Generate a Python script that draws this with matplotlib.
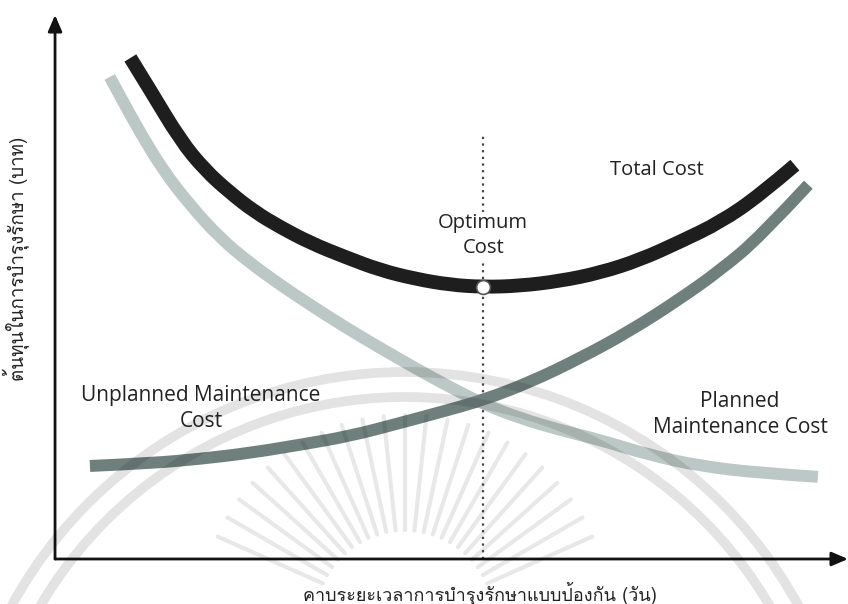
import matplotlib
matplotlib.use("Agg")
import matplotlib.pyplot as plt
import matplotlib.font_manager as fm
from matplotlib.ft2font import FT2Font
from matplotlib.patches import Circle, PathPatch
from matplotlib.path import Path
import numpy as np

# total cost curve
total_x = [9.5, 12.0, 15.8, 18.9, 22.1, 25.2, 28.4, 32.2, 36.6, 41.0, 45.4,
           49.8, 54.0, 58.6, 63.7, 68.7, 73.8, 78.8, 83.9, 88.9, 93.3]
total_y = [92.1, 86.2, 77.0, 71.5, 67.3, 63.8, 61.0, 58.1, 55.5, 53.1, 51.5,
           50.4, 50.0, 50.2, 51.1, 52.6, 55.0, 58.3, 61.9, 66.9, 72.4]

# falling curve (light)
fall_x = [6.9, 8.8, 10.7, 13.6, 17.0, 20.8, 24.6, 28.4, 32.2, 36.6, 41.0,
          45.4, 49.8, 54.0, 58.6, 63.7, 68.7, 75.0, 81.3, 88.9, 96.2]
fall_y = [88.6, 83.5, 78.5, 71.5, 65.1, 59.0, 54.4, 50.4, 46.7, 42.6, 38.8,
          35.1, 31.6, 28.5, 25.9, 23.7, 21.9, 19.1, 17.1, 15.8, 15.1]

# rising curve (dark)
rise_x = [4.4, 12.0, 18.3, 24.6, 30.9, 37.2, 43.5, 48.6, 54.0, 59.9, 66.2,
          72.5, 78.8, 83.9, 88.9, 95.0]
rise_y = [17.1, 17.6, 18.4, 19.5, 21.0, 22.6, 25.0, 27.0, 29.2, 32.5, 36.9,
          41.9, 47.8, 53.1, 59.2, 68.8]

x_label = "คาบระยะเวลาการบำรุงรักษาแบบป้องกัน (วัน)"
y_label = "ต้นทุนในการบำรุงรักษา (บาท)"


def thai_family():
    for f in fm.fontManager.ttflist:
        try:
            if 0x0E01 in FT2Font(f.fname).get_charmap():
                return f.name
        except Exception:
            continue
    return "DejaVu Sans"


def smooth_path(x, y):
    # quadratic bezier through midpoints, the read points act as controls
    pts = np.column_stack([x, y])
    verts = [pts[0]]
    codes = [Path.MOVETO]
    n = len(pts)
    for i in range(1, n - 1):
        end = pts[-1] if i == n - 2 else (pts[i] + pts[i + 1]) / 2
        verts += [pts[i], end]
        codes += [Path.CURVE3, Path.CURVE3]
    return Path(verts, codes)


thai = thai_family()
txt_font = ["Open Sans", "DejaVu Sans"]

fig = plt.figure(figsize=(8.48, 6.04), dpi=100)
ax = fig.add_axes([0.0649, 0.0745, 0.9351, 0.9007])
ax.set_xlim(0, 100)
ax.set_ylim(0, 100)
ax.axis("off")

for xs, ys, col, lw, z in (
    (fall_x, fall_y, "#bcc8c5", 8.6, 2),
    (rise_x, rise_y, "#6f807c", 8.6, 3),
    (total_x, total_y, "#1e1e1e", 10, 4),
):
    ax.add_patch(PathPatch(smooth_path(xs, ys), fill=False, edgecolor=col,
                           lw=lw, capstyle="butt", joinstyle="round",
                           zorder=z))

i_min = int(np.argmin(total_y))
opt_x, opt_y = total_x[i_min], total_y[i_min]
ax.plot([opt_x, opt_x], [0, 78], color="#444444", lw=1.6,
        linestyle=(0, (1, 2)), zorder=1)
ax.plot(opt_x, opt_y, "o", ms=10, mfc="white", mec="#555555", mew=1.2,
        zorder=6)

ax.text(opt_x, 59.4, "Optimum\nCost", ha="center", va="center",
        fontsize=14.5, family=txt_font, color="#222222", linespacing=1.35,
        bbox=dict(facecolor="white", edgecolor="none", pad=1), zorder=5)
ax.text(75.9, 71.5, "Total Cost", ha="center", va="center",
        fontsize=14.5, family=txt_font, color="#222222")
ax.text(18.4, 27.6, "Unplanned Maintenance\nCost", ha="center", va="center",
        fontsize=15, family=txt_font, color="#222222", linespacing=1.3)
ax.text(86.4, 26.5, "Planned\nMaintenance Cost", ha="center", va="center",
        fontsize=15, family=txt_font, color="#222222", linespacing=1.3)

arrow = dict(arrowstyle="-|>,head_length=0.7,head_width=0.3", lw=2,
             color="#111111", shrinkA=0, shrinkB=0, mutation_scale=14)
ax.annotate("", xy=(1, 0), xytext=(0, 0), xycoords="axes fraction",
            arrowprops=arrow, annotation_clip=False)
ax.annotate("", xy=(0, 1), xytext=(0, 0), xycoords="axes fraction",
            arrowprops=arrow, annotation_clip=False)

fig.text(480 / 848, 1 - 593 / 604, x_label, ha="center", va="center",
         fontsize=13, family=[thai, "DejaVu Sans"], color="#222222")
fig.text(16 / 848, 1 - 259 / 604, y_label, ha="center", va="center",
         rotation=90, fontsize=13.5, family=[thai, "DejaVu Sans"],
         color="#222222")

# faint watermark overlay
wm = fig.add_axes([0, 0, 1, 1], facecolor="none")
wm.set_xlim(0, 848)
wm.set_ylim(0, 604)
wm.axis("off")
for r in (448, 423):
    wm.add_patch(Circle((405, -216), r, fill=False, lw=7,
                        edgecolor="black", alpha=0.11))
for ang in np.arange(24, 160, 6):
    a = np.deg2rad(ang)
    wm.plot([405 + 90 * np.cos(a), 405 + 205 * np.cos(a)],
            [-16 + 90 * np.sin(a), -16 + 205 * np.sin(a)],
            color="black", alpha=0.09, lw=3, solid_capstyle="round")

fig.savefig("out.png", dpi=100)
